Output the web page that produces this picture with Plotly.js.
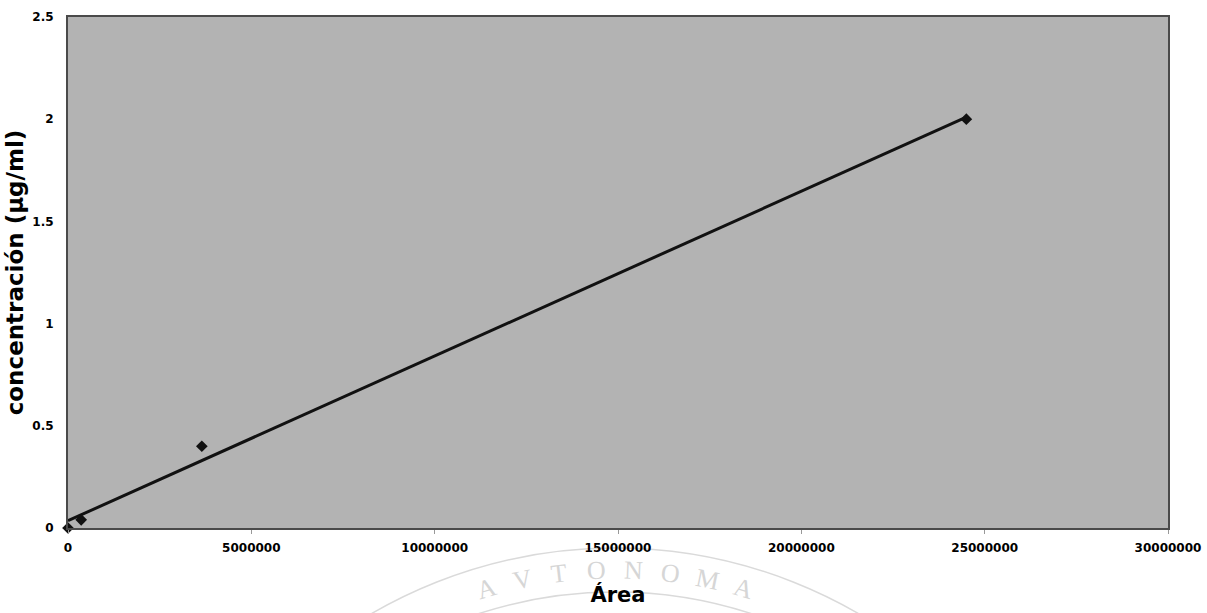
<!DOCTYPE html>
<html>
<head>
<meta charset="utf-8">
<script src="https://cdn.plot.ly/plotly-3.0.1.min.js"></script>
<style>html,body{margin:0;padding:0;background:#fff;}#chart{width:1207px;height:613px;}</style>
</head>
<body>
<div id="chart"></div>
<script>
// Data
const areaValues = [0, 360000, 3650000, 24500000];
const concValues = [0, 0.04, 0.40, 2.00];
const xTickValues = [0, 5000000, 10000000, 15000000, 20000000, 25000000, 30000000];
const xTickLabels = ["0", "5000000", "10000000", "15000000", "20000000", "25000000", "30000000"];
const yTickValues = [0, 0.5, 1, 1.5, 2, 2.5];
const yTickLabels = ["0", "0.5", "1", "1.5", "2", "2.5"];
const watermarkLetters = ["A", "V", "T", "O", "N", "O", "M", "A"];

// Linear trendline (least squares) from the data
const n = areaValues.length;
const mx = areaValues.reduce((a, b) => a + b, 0) / n;
const my = concValues.reduce((a, b) => a + b, 0) / n;
let sxy = 0, sxx = 0;
for (let i = 0; i < n; i++) { sxy += (areaValues[i] - mx) * (concValues[i] - my); sxx += (areaValues[i] - mx) ** 2; }
const slope = sxy / sxx, intercept = my - slope * mx;
const trendX = [Math.min(...areaValues), Math.max(...areaValues)];
const trendY = trendX.map(x => intercept + slope * x);

const traces = [
  {x: trendX, y: trendY, mode: 'lines', line: {color: '#111', width: 3}, hoverinfo: 'skip', showlegend: false, cliponaxis: false},
  {x: areaValues, y: concValues, mode: 'markers', marker: {symbol: 'diamond', size: 9, color: '#111'}, showlegend: false, cliponaxis: false}
];

// Faint watermark letters (scanned seal) along an arc, in paper coordinates
const L = 68, W = 1100, B = 528, H = 511;
const cx = 615, cy = 570 + 462, rad = 462;
const annotations = [];
const step = 4.6;
watermarkLetters.forEach((ch, i) => {
  const ang = (i - (watermarkLetters.length - 1) / 2) * step;
  const a = ang * Math.PI / 180;
  const px = cx + rad * Math.sin(a);
  const py = cy - rad * Math.cos(a);
  annotations.push({
    text: ch, xref: 'paper', yref: 'paper',
    x: (px - L) / W, y: (B - py) / H,
    showarrow: false, textangle: ang,
    font: {family: 'Liberation Serif, serif', size: 26, color: '#d6d6d6'},
    xanchor: 'center', yanchor: 'middle'
  });
});
const ring = r => ({type: 'circle', xref: 'paper', yref: 'paper',
  x0: (cx - r - L) / W, x1: (cx + r - L) / W, y0: (B - (cy + r)) / H, y1: (B - (cy - r)) / H,
  line: {color: '#dadada', width: 1.5}, layer: 'below'});
const shapes = [ring(rad + 22), ring(rad - 22)];

const tickFont = {size: 12, family: 'DejaVu Sans, sans-serif', weight: 'bold'};

const layout = {
  width: 1207, height: 613,
  margin: {l: 68, r: 39, t: 17, b: 85},
  paper_bgcolor: '#ffffff',
  plot_bgcolor: '#b3b3b3',
  font: {family: 'DejaVu Sans, sans-serif', color: '#000'},
  xaxis: {
    range: [0, 30000000], tickvals: xTickValues, ticktext: xTickLabels,
    tickfont: tickFont,
    ticks: 'outside', ticklen: 4, tickcolor: '#999', ticklabelstandoff: 4,
    showgrid: false, zeroline: false,
    showline: true, linecolor: '#4a4a4a', linewidth: 2, mirror: true,
    title: {text: '<b>Área</b>', font: {size: 21, family: 'DejaVu Sans, sans-serif'}, standoff: 33}
  },
  yaxis: {
    range: [0, 2.5], tickvals: yTickValues, ticktext: yTickLabels,
    tickfont: tickFont,
    ticks: '', ticklabelstandoff: 10, showgrid: false, zeroline: false,
    showline: true, linecolor: '#4a4a4a', linewidth: 2, mirror: true,
    title: {text: '<b>concentración (µg/ml)</b>', font: {size: 23, family: 'DejaVu Sans, sans-serif'}, standoff: 2}
  },
  annotations: annotations,
  shapes: shapes
};

Plotly.newPlot('chart', traces, layout, {displayModeBar: false, staticPlot: true});
</script>
</body>
</html>
